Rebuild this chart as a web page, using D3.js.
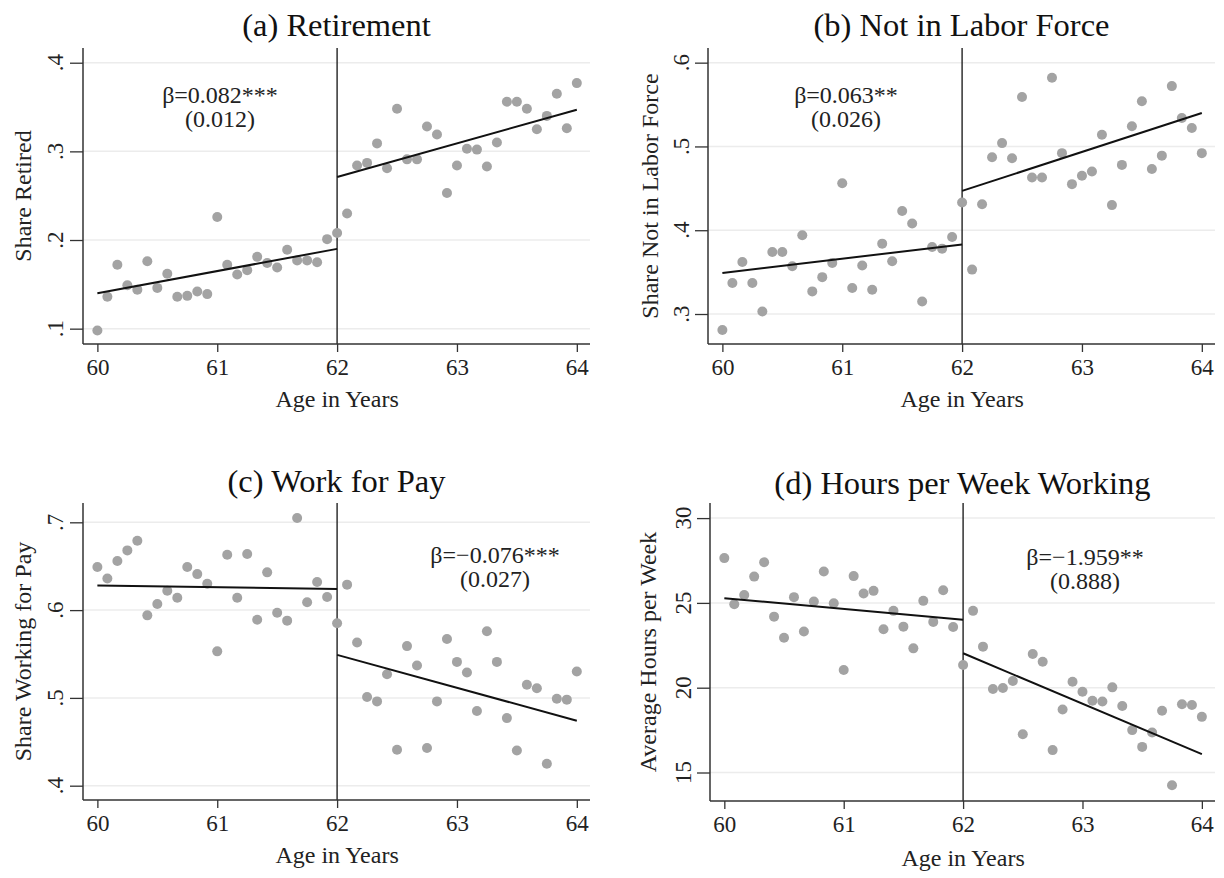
<!DOCTYPE html>
<html>
<head>
<meta charset="utf-8">
<script src="https://cdn.jsdelivr.net/npm/d3@7"></script>
<style>
  html, body { margin: 0; padding: 0; background: #fff; }
  svg { display: block; font-family: "Liberation Serif", "Times New Roman", serif; }
</style>
</head>
<body>
<svg id="chart" width="1224" height="878"></svg>
<script>
// Monthly age bins: months past the 60th birthday
const monthsPast60 = [0,1,2,3,4,5,6,7,8,9,10,11,12,13,14,15,16,17,18,19,20,21,22,23,24,
  25,26,27,28,29,30,31,32,33,34,35,36,37,38,39,40,41,42,43,44,45,46,47,48];
const xTicks = [60, 61, 62, 63, 64];

// (a) share retired
const retired = [0.098,0.136,0.172,0.149,0.144,0.176,0.146,0.162,0.136,0.137,0.142,0.139,0.226,
  0.172,0.161,0.166,0.181,0.174,0.169,0.189,0.177,0.177,0.175,0.201,0.208,
  0.230,0.284,0.287,0.309,0.281,0.348,0.291,0.291,0.328,0.319,0.253,0.284,
  0.303,0.302,0.283,0.310,0.356,0.356,0.348,0.325,0.340,0.365,0.326,0.377];
const retiredFitLeft = [[60, 0.140], [62, 0.190]];
const retiredFitRight = [[62, 0.271], [64, 0.347]];
const retiredTicks = [0.1, 0.2, 0.3, 0.4];

// (b) share not in labor force
const notInLF = [0.281,0.337,0.362,0.337,0.303,0.374,0.374,0.357,0.394,0.327,0.344,0.361,0.456,
  0.331,0.358,0.329,0.384,0.363,0.423,0.408,0.315,0.380,0.378,0.392,0.433,
  0.353,0.431,0.487,0.504,0.486,0.559,0.463,0.463,0.582,0.492,0.455,0.465,
  0.470,0.514,0.430,0.478,0.524,0.554,0.473,0.489,0.572,0.534,0.522,0.492];
const notInLFFitLeft = [[60, 0.349], [62, 0.383]];
const notInLFFitRight = [[62, 0.447], [64, 0.540]];
const notInLFTicks = [0.3, 0.4, 0.5, 0.6];

// (c) share working for pay
const workPay = [0.649,0.636,0.656,0.668,0.679,0.594,0.607,0.622,0.614,0.649,0.641,0.630,0.553,
  0.663,0.614,0.664,0.589,0.643,0.597,0.588,0.705,0.609,0.632,0.615,0.585,
  0.629,0.563,0.501,0.496,0.527,0.441,0.559,0.537,0.443,0.496,0.567,0.541,
  0.529,0.485,0.576,0.541,0.477,0.440,0.515,0.511,0.425,0.499,0.498,0.530];
const workPayFitLeft = [[60, 0.628], [62, 0.624]];
const workPayFitRight = [[62, 0.549], [64, 0.474]];
const workPayTicks = [0.4, 0.5, 0.6, 0.7];

// (d) average hours per week working
const hours = [27.64,24.92,25.47,26.55,27.40,24.19,22.95,25.34,23.31,25.08,26.85,24.98,21.04,
  26.58,25.55,25.71,23.45,24.53,23.60,22.32,25.12,23.88,25.75,23.58,21.34,
  24.53,22.42,19.92,19.98,20.39,17.26,21.99,21.53,16.32,18.72,20.35,19.76,
  19.23,19.19,20.02,18.92,17.50,16.51,17.36,18.64,14.25,19.02,18.98,18.28];
const hoursFitLeft = [[60, 25.28], [62, 24.00]];
const hoursFitRight = [[62, 22.03], [64, 16.08]];
const hoursTicks = [15, 20, 25, 30];

const shareFmt = v => d3.format(".1f")(v).replace(/^0/, "");

const panels = [
  { title: "(a) Retirement", ylab: "Share Retired", values: retired,
    fitL: retiredFitLeft, fitR: retiredFitRight, ticks: retiredTicks, fmt: shareFmt,
    box: { x0: 83, x1: 590, y0: 48, y1: 344 }, yDom: [0.0827, 0.4166], xDom: [59.88, 64.11],
    beta: ["β=0.082***", "(0.012)"], betaX: 220, betaY: 103, titleY: 36, ylabX: 23, tickLabX: 63, xlabY: 407 },
  { title: "(b) Not in Labor Force", ylab: "Share Not in Labor Force", values: notInLF,
    fitL: notInLFFitLeft, fitR: notInLFFitRight, ticks: notInLFTicks, fmt: shareFmt,
    box: { x0: 708, x1: 1215, y0: 48, y1: 344 }, yDom: [0.2642, 0.6175], xDom: [59.88, 64.11],
    beta: ["β=0.063**", "(0.026)"], betaX: 846, betaY: 103, titleY: 36, ylabX: 650, tickLabX: 689, xlabY: 407 },
  { title: "(c) Work for Pay", ylab: "Share Working for Pay", values: workPay,
    fitL: workPayFitLeft, fitR: workPayFitRight, ticks: workPayTicks, fmt: shareFmt,
    box: { x0: 83, x1: 590, y0: 503, y1: 800 }, yDom: [0.3837, 0.722], xDom: [59.88, 64.11],
    beta: ["β=−0.076***", "(0.027)"], betaX: 495, betaY: 563, titleY: 492, ylabX: 23, tickLabX: 63, xlabY: 863 },
  { title: "(d) Hours per Week Working", ylab: "Average Hours per Week", values: hours,
    fitL: hoursFitLeft, fitR: hoursFitRight, ticks: hoursTicks, fmt: d3.format("d"),
    box: { x0: 710, x1: 1215, y0: 503, y1: 801 }, yDom: [13.32, 30.89], xDom: [59.88, 64.11],
    beta: ["β=−1.959**", "(0.888)"], betaX: 1085, betaY: 565, titleY: 494, ylabX: 648, tickLabX: 691, xlabY: 866 }
];

const svg = d3.select("#chart");

panels.forEach(p => {
  const b = p.box;
  const x = d3.scaleLinear().domain(p.xDom).range([b.x0, b.x1]);
  const y = d3.scaleLinear().domain(p.yDom).range([b.y1, b.y0]);
  const g = svg.append("g");

  // horizontal grid lines
  g.selectAll("line.grid").data(p.ticks).join("line")
    .attr("x1", b.x0).attr("x2", b.x1)
    .attr("y1", d => y(d)).attr("y2", d => y(d))
    .attr("stroke", "#ececec").attr("stroke-width", 1.5);

  // cutoff at age 62
  g.append("line")
    .attr("x1", x(62)).attr("x2", x(62)).attr("y1", b.y1).attr("y2", b.y0)
    .attr("stroke", "#222").attr("stroke-width", 1.4);

  // binned means
  g.selectAll("circle").data(p.values).join("circle")
    .attr("cx", (d, i) => x(60 + monthsPast60[i] / 12))
    .attr("cy", d => y(d))
    .attr("r", 5)
    .attr("fill", "#a3a3a3");

  // linear fits on each side of the cutoff
  const line = d3.line().x(d => x(d[0])).y(d => y(d[1]));
  [p.fitL, p.fitR].forEach(seg => {
    g.append("path").attr("d", line(seg))
      .attr("fill", "none").attr("stroke", "#111").attr("stroke-width", 2);
  });

  // x axis
  const xa = g.append("g").attr("transform", `translate(0,${b.y1})`)
    .call(d3.axisBottom(x).tickValues(xTicks).tickSize(8).tickPadding(7).tickFormat(d3.format("d")));
  xa.select(".domain").attr("stroke", "#333").attr("stroke-width", 1.5).attr("d", `M${b.x0},0H${b.x1}`);
  xa.selectAll(".tick line").attr("stroke", "#333").attr("stroke-width", 1.3);
  xa.selectAll(".tick text").attr("font-size", 23).attr("fill", "#222")
    .attr("font-family", "Liberation Serif, Times New Roman, serif");

  // y axis with rotated tick labels
  const ya = g.append("g").attr("transform", `translate(${b.x0},0)`)
    .call(d3.axisLeft(y).tickValues(p.ticks).tickSize(13).tickFormat(""));
  ya.select(".domain").attr("stroke", "#333").attr("stroke-width", 1.5).attr("d", `M0,${b.y0}V${b.y1}`);
  ya.selectAll(".tick line").attr("stroke", "#333").attr("stroke-width", 1.3);
  g.selectAll("text.ytick").data(p.ticks).join("text")
    .attr("class", "ytick")
    .attr("transform", d => `translate(${p.tickLabX},${y(d)}) rotate(-90)`)
    .attr("text-anchor", "middle")
    .attr("font-size", 23).attr("fill", "#222")
    .text(p.fmt);

  // axis titles
  g.append("text")
    .attr("transform", `translate(${p.ylabX},${(b.y0 + b.y1) / 2}) rotate(-90)`)
    .attr("text-anchor", "middle").attr("dy", "0.35em")
    .attr("font-size", 24).attr("fill", "#222").text(p.ylab);
  g.append("text")
    .attr("x", x(62)).attr("y", p.xlabY)
    .attr("text-anchor", "middle").attr("font-size", 24).attr("fill", "#222")
    .text("Age in Years");

  // panel title
  g.append("text")
    .attr("x", (b.x0 + b.x1) / 2).attr("y", p.titleY)
    .attr("text-anchor", "middle").attr("font-size", 32.5).attr("fill", "#111")
    .text(p.title);

  // discontinuity estimate
  g.append("text")
    .attr("x", p.betaX).attr("y", p.betaY)
    .attr("text-anchor", "middle").attr("font-size", 24).attr("fill", "#222")
    .text(p.beta[0]);
  g.append("text")
    .attr("x", p.betaX).attr("y", p.betaY + 24)
    .attr("text-anchor", "middle").attr("font-size", 24).attr("fill", "#222")
    .text(p.beta[1]);
});
</script>
</body>
</html>
